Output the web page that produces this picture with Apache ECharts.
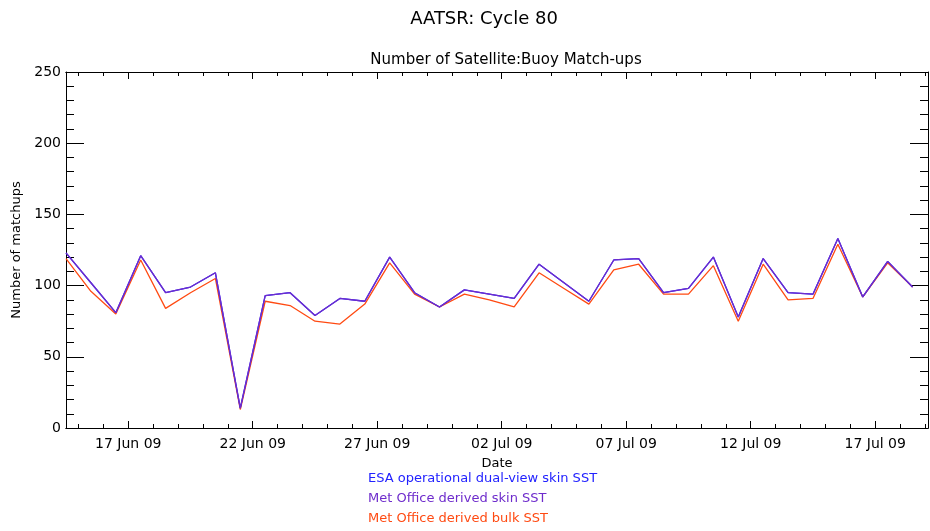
<!DOCTYPE html>
<html>
<head>
<meta charset="utf-8">
<script src="https://cdn.jsdelivr.net/npm/echarts@6/dist/echarts.min.js"></script>
<style>
html,body{margin:0;padding:0;background:#fff;}
#chart{width:930px;height:531px;}
</style>
</head>
<body>
<div id="chart"></div>
<script>
// Dates of the daily match-up counts (plotted at midday UTC)
var dates = ['2009-06-14','2009-06-15','2009-06-16','2009-06-17','2009-06-18','2009-06-19','2009-06-20',
  '2009-06-21','2009-06-22','2009-06-23','2009-06-24','2009-06-25','2009-06-26','2009-06-27',
  '2009-06-28','2009-06-29','2009-06-30','2009-07-01','2009-07-02','2009-07-03','2009-07-04',
  '2009-07-05','2009-07-06','2009-07-07','2009-07-08','2009-07-09','2009-07-10','2009-07-11',
  '2009-07-12','2009-07-13','2009-07-14','2009-07-15','2009-07-16','2009-07-17','2009-07-18'];

var esaSkin = [123,102,81,121,95,99,109,14,93,95,79,91,89,120,95,85,97,94,91,115,102,89,118,119,95,98,120,78,119,95,94,133,92,117,99];
var moSkin  = [123,102,81,121,95,99,109,14,93,95,79,91,89,120,95,85,97,94,91,115,102,89,118,119,95,98,120,78,119,95,94,133,92,117,99];
var moBulk  = [119,96,80,118,84,95,105,13,89,86,75,73,87,116,94,85,94,90,85,109,98,87,111,115,94,94,114,75,115,90,91,129,92,116,99];

var majorTickDates = ['2009-06-17','2009-06-22','2009-06-27','2009-07-02','2009-07-07','2009-07-12','2009-07-17'];
var minorTickDates = ['2009-06-15','2009-06-16','2009-06-17','2009-06-18','2009-06-19','2009-06-20','2009-06-21',
  '2009-06-22','2009-06-23','2009-06-24','2009-06-25','2009-06-26','2009-06-27','2009-06-28','2009-06-29',
  '2009-06-30','2009-07-01','2009-07-02','2009-07-03','2009-07-04','2009-07-05','2009-07-06','2009-07-07',
  '2009-07-08','2009-07-09','2009-07-10','2009-07-11','2009-07-12','2009-07-13','2009-07-14','2009-07-15',
  '2009-07-16','2009-07-17','2009-07-18','2009-07-19'];

var seriesNames = ['ESA operational dual-view skin SST','Met Office derived skin SST','Met Office derived bulk SST'];
var seriesColors = ['#2222ff','#6e2ccc','#ff4a12'];

var DAY = 86400000;
function ts(d){ var p = d.split('-'); return Date.UTC(+p[0], +p[1]-1, +p[2]); }
function pts(vals){ return dates.map(function(d,i){ return [ts(d) + DAY/2, vals[i]]; }); }
var xMin = ts('2009-06-14') + DAY/2;
var xMax = ts('2009-07-19') + 0.12*DAY;
var majors = majorTickDates.map(ts);
var minors = minorTickDates.map(ts);
var MON = ['Jan','Feb','Mar','Apr','May','Jun','Jul','Aug','Sep','Oct','Nov','Dec'];
function fmt(v){
  var d = new Date(v);
  var dd = d.getUTCDate(); dd = (dd<10?'0':'')+dd;
  var yy = String(d.getUTCFullYear()).slice(2);
  return dd + ' ' + MON[d.getUTCMonth()] + ' ' + yy;
}

var FONT = 'DejaVu Sans';
var black = '#000';

function xAx(pos, tickVals, len, labels, name){
  return {
    type:'value', position:pos, min:xMin, max:xMax, scale:true,
    axisLine:{show:true, onZero:false, lineStyle:{color:black, width:1}},
    axisTick:{show:true, inside:true, length:len, customValues:tickVals, lineStyle:{color:black, width:1}},
    axisLabel:{show:labels, customValues:majors, formatter:fmt, color:black, fontFamily:FONT, fontSize:14, margin:9},
    splitLine:{show:false},
    name:name||'', nameLocation:'middle', nameGap:29,
    nameTextStyle:{color:black, fontFamily:FONT, fontSize:13}
  };
}
function yAx(pos, labels, name){
  return {
    type:'value', position:pos, min:0, max:250, interval:50,
    axisLine:{show:true, lineStyle:{color:black, width:1}},
    axisTick:{show:true, inside:true, length:18, lineStyle:{color:black, width:1}},
    minorTick:{show:true, splitNumber:5, length:8, lineStyle:{color:black, width:1}},
    axisLabel:{show:labels, color:black, fontFamily:FONT, fontSize:14, margin:5},
    splitLine:{show:false},
    name:name||'', nameLocation:'middle', nameGap:39,
    nameTextStyle:{color:black, fontFamily:FONT, fontSize:13}
  };
}

var chart = echarts.init(document.getElementById('chart'), null, {renderer:'canvas'});
chart.setOption({
  backgroundColor:'#fff',
  animation:false,
  title:[
    {text:'AATSR: Cycle 80', left:479, top:5, textAlign:'center',
     textStyle:{fontFamily:FONT, fontSize:18, fontWeight:'normal', color:black}},
    {text:'Number of Satellite:Buoy Match-ups', left:501, top:48, textAlign:'center',
     textStyle:{fontFamily:FONT, fontSize:15, fontWeight:'normal', color:black}}
  ],
  legend:{
    orient:'vertical', left:363, top:472, itemWidth:0, itemHeight:0, itemGap:7, icon:'rect',
    selectedMode:false, padding:0,
    data: seriesNames.map(function(n,i){ return {name:n, textStyle:{color:seriesColors[i]}}; }),
    textStyle:{fontFamily:FONT, fontSize:13}
  },
  grid:{left:66, right:2, top:72, bottom:103, containLabel:false},
  xAxis:[
    xAx('bottom', majors, 7, true, 'Date'),
    xAx('bottom', minors, 4, false),
    xAx('top', majors, 7, false),
    xAx('top', minors, 4, false)
  ],
  yAxis:[ yAx('left', true, 'Number of matchups'), yAx('right', false) ],
  series:[
    {name:seriesNames[2], type:'line', data:pts(moBulk), symbol:'none', z:2,
     lineStyle:{color:seriesColors[2], width:1.3}, itemStyle:{color:seriesColors[2]}},
    {name:seriesNames[0], type:'line', data:pts(esaSkin), symbol:'none', z:3,
     lineStyle:{color:seriesColors[0], width:1.3}, itemStyle:{color:seriesColors[0]}},
    {name:seriesNames[1], type:'line', data:pts(moSkin), symbol:'none', z:4,
     lineStyle:{color:seriesColors[1], width:1.3}, itemStyle:{color:seriesColors[1]}}
  ]
});
</script>
</body>
</html>
